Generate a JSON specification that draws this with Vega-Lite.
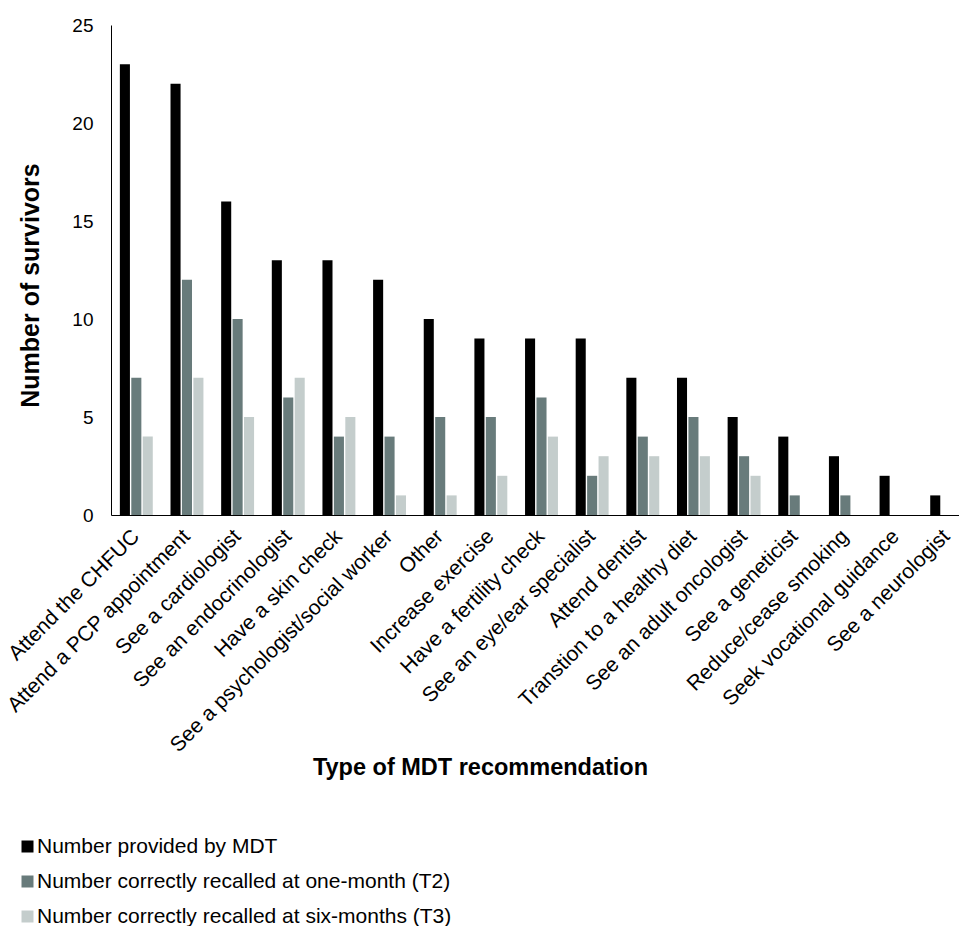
{
  "$schema": "https://vega.github.io/schema/vega-lite/v6.json",
  "autosize": "none",
  "width": 848,
  "height": 490,
  "padding": {"left": 111, "top": 25, "right": 0, "bottom": 411},
  "background": "white",
  "data": {
    "values": [
      {"rec": "Attend the CHFUC", "series": "Number provided by MDT", "n": 23},
      {"rec": "Attend the CHFUC", "series": "Number correctly recalled at one-month (T2)", "n": 7},
      {"rec": "Attend the CHFUC", "series": "Number correctly recalled at six-months (T3)", "n": 4},
      {"rec": "Attend a PCP appointment", "series": "Number provided by MDT", "n": 22},
      {"rec": "Attend a PCP appointment", "series": "Number correctly recalled at one-month (T2)", "n": 12},
      {"rec": "Attend a PCP appointment", "series": "Number correctly recalled at six-months (T3)", "n": 7},
      {"rec": "See a cardiologist", "series": "Number provided by MDT", "n": 16},
      {"rec": "See a cardiologist", "series": "Number correctly recalled at one-month (T2)", "n": 10},
      {"rec": "See a cardiologist", "series": "Number correctly recalled at six-months (T3)", "n": 5},
      {"rec": "See an endocrinologist", "series": "Number provided by MDT", "n": 13},
      {"rec": "See an endocrinologist", "series": "Number correctly recalled at one-month (T2)", "n": 6},
      {"rec": "See an endocrinologist", "series": "Number correctly recalled at six-months (T3)", "n": 7},
      {"rec": "Have a skin check", "series": "Number provided by MDT", "n": 13},
      {"rec": "Have a skin check", "series": "Number correctly recalled at one-month (T2)", "n": 4},
      {"rec": "Have a skin check", "series": "Number correctly recalled at six-months (T3)", "n": 5},
      {"rec": "See a psychologist/social worker", "series": "Number provided by MDT", "n": 12},
      {"rec": "See a psychologist/social worker", "series": "Number correctly recalled at one-month (T2)", "n": 4},
      {"rec": "See a psychologist/social worker", "series": "Number correctly recalled at six-months (T3)", "n": 1},
      {"rec": "Other", "series": "Number provided by MDT", "n": 10},
      {"rec": "Other", "series": "Number correctly recalled at one-month (T2)", "n": 5},
      {"rec": "Other", "series": "Number correctly recalled at six-months (T3)", "n": 1},
      {"rec": "Increase exercise", "series": "Number provided by MDT", "n": 9},
      {"rec": "Increase exercise", "series": "Number correctly recalled at one-month (T2)", "n": 5},
      {"rec": "Increase exercise", "series": "Number correctly recalled at six-months (T3)", "n": 2},
      {"rec": "Have a fertility check", "series": "Number provided by MDT", "n": 9},
      {"rec": "Have a fertility check", "series": "Number correctly recalled at one-month (T2)", "n": 6},
      {"rec": "Have a fertility check", "series": "Number correctly recalled at six-months (T3)", "n": 4},
      {"rec": "See an eye/ear specialist", "series": "Number provided by MDT", "n": 9},
      {"rec": "See an eye/ear specialist", "series": "Number correctly recalled at one-month (T2)", "n": 2},
      {"rec": "See an eye/ear specialist", "series": "Number correctly recalled at six-months (T3)", "n": 3},
      {"rec": "Attend dentist", "series": "Number provided by MDT", "n": 7},
      {"rec": "Attend dentist", "series": "Number correctly recalled at one-month (T2)", "n": 4},
      {"rec": "Attend dentist", "series": "Number correctly recalled at six-months (T3)", "n": 3},
      {"rec": "Transtion to a healthy diet", "series": "Number provided by MDT", "n": 7},
      {"rec": "Transtion to a healthy diet", "series": "Number correctly recalled at one-month (T2)", "n": 5},
      {"rec": "Transtion to a healthy diet", "series": "Number correctly recalled at six-months (T3)", "n": 3},
      {"rec": "See an adult oncologist", "series": "Number provided by MDT", "n": 5},
      {"rec": "See an adult oncologist", "series": "Number correctly recalled at one-month (T2)", "n": 3},
      {"rec": "See an adult oncologist", "series": "Number correctly recalled at six-months (T3)", "n": 2},
      {"rec": "See a geneticist", "series": "Number provided by MDT", "n": 4},
      {"rec": "See a geneticist", "series": "Number correctly recalled at one-month (T2)", "n": 1},
      {"rec": "See a geneticist", "series": "Number correctly recalled at six-months (T3)", "n": 0},
      {"rec": "Reduce/cease smoking", "series": "Number provided by MDT", "n": 3},
      {"rec": "Reduce/cease smoking", "series": "Number correctly recalled at one-month (T2)", "n": 1},
      {"rec": "Reduce/cease smoking", "series": "Number correctly recalled at six-months (T3)", "n": 0},
      {"rec": "Seek vocational guidance", "series": "Number provided by MDT", "n": 2},
      {"rec": "Seek vocational guidance", "series": "Number correctly recalled at one-month (T2)", "n": 0},
      {"rec": "Seek vocational guidance", "series": "Number correctly recalled at six-months (T3)", "n": 0},
      {"rec": "See a neurologist", "series": "Number provided by MDT", "n": 1},
      {"rec": "See a neurologist", "series": "Number correctly recalled at one-month (T2)", "n": 0},
      {"rec": "See a neurologist", "series": "Number correctly recalled at six-months (T3)", "n": 0}
    ]
  },
  "mark": {"type": "bar"},
  "encoding": {
    "x": {
      "field": "rec",
      "type": "nominal",
      "sort": null,
      "scale": {"range": [0, 861], "paddingInner": 0.35, "paddingOuter": 0.175},
      "axis": {
        "title": "Type of MDT recommendation",
        "labelAngle": -45,
        "labelAlign": "right",
        "labelBaseline": "middle",
        "labelFontSize": 21,
        "labelPadding": 18,
        "labelLimit": 500,
        "labelColor": "#000000",
        "ticks": false,
        "domainColor": "#000000",
        "titleFontSize": 23.5,
        "titleFontWeight": "bold",
        "titleColor": "#000000",
        "titleX": 369,
        "titleY": 240,
        "titleBaseline": "top",
        "titleAlign": "center"
      }
    },
    "xOffset": {
      "field": "series",
      "type": "nominal",
      "sort": null,
      "scale": {"paddingInner": 0.12, "paddingOuter": 0}
    },
    "y": {
      "field": "n",
      "type": "quantitative",
      "scale": {"domain": [0, 25], "nice": false},
      "axis": {
        "title": "Number of survivors",
        "values": [0, 5, 10, 15, 20, 25],
        "grid": false,
        "ticks": false,
        "domainColor": "#000000",
        "labelFontSize": 19,
        "labelPadding": 18,
        "labelColor": "#000000",
        "titleFontSize": 25,
        "titleFontWeight": "bold",
        "titleColor": "#000000",
        "titleX": -81,
        "titleY": 260,
        "titleAngle": -90,
        "titleAlign": "center",
        "titleBaseline": "middle"
      }
    },
    "color": {
      "field": "series",
      "type": "nominal",
      "sort": null,
      "scale": {"range": ["#000000", "#687b7b", "#c4cdcc"]},
      "legend": {
        "title": null,
        "orient": "none",
        "direction": "vertical",
        "legendX": -94,
        "legendY": 811,
        "symbolType": "square",
        "symbolSize": 144,
        "symbolStrokeWidth": 0,
        "labelFontSize": 21,
        "labelColor": "#000000",
        "labelOffset": -1,
        "labelLimit": 600,
        "rowPadding": 13
      }
    }
  },
  "config": {
    "font": "Liberation Sans",
    "view": {"stroke": null}
  }
}
